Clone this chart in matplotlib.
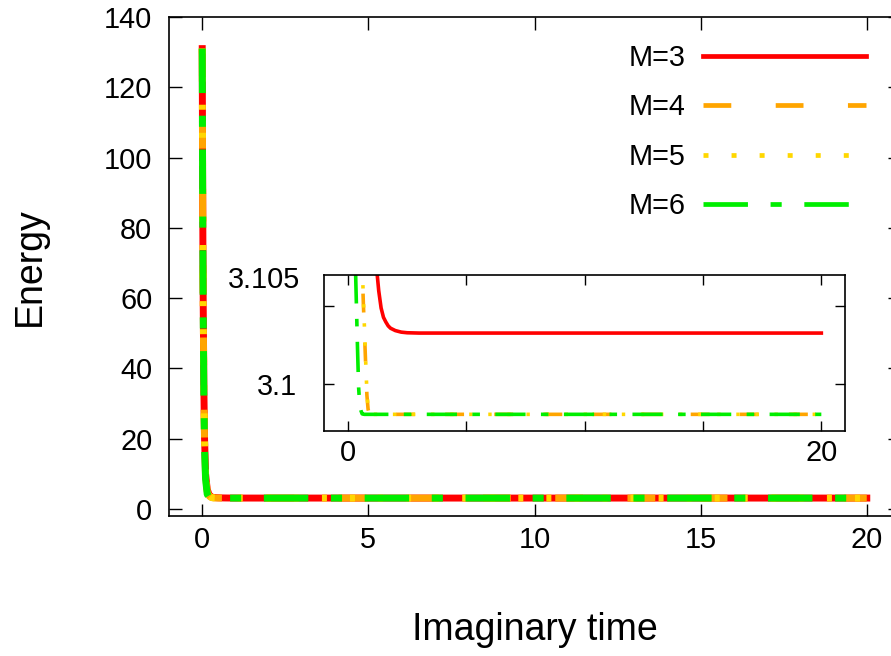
import numpy as np
import matplotlib
matplotlib.use('Agg')
import matplotlib.pyplot as plt
from matplotlib.lines import Line2D

plt.rcParams['font.family'] = ['Liberation Sans', 'DejaVu Sans']
plt.rcParams['lines.scale_dashes'] = False

# imaginary time grid shared by all runs
t = [0, 0.01, 0.02, 0.03, 0.05, 0.07, 0.1, 0.15, 0.2, 0.25,
     0.3, 0.35, 0.4, 0.45, 0.5, 0.55, 0.6, 0.65, 0.7, 0.75,
     0.8, 0.85, 0.9, 1.0, 1.1, 1.2, 1.3, 1.4, 1.5, 1.6,
     1.7, 1.8, 2.0, 2.25, 2.5, 3.0, 5.0, 10.0, 15.0, 20.0]

e_m3 = [131, 100, 76, 58, 34, 20, 10, 5.6, 4.2, 3.6,
        3.35, 3.27, 3.23, 3.2, 3.18, 3.165, 3.15, 3.14, 3.132, 3.126,
        3.121, 3.117, 3.1145, 3.1115, 3.1093, 3.1076, 3.1060, 3.1049, 3.1043, 3.1040,
        3.10375, 3.1036, 3.10345, 3.10335, 3.10331, 3.10329, 3.10329, 3.10329, 3.10329, 3.10329]

e_m4 = [131, 99, 75, 57, 33, 19, 9.5, 5.0, 3.8, 3.4,
        3.22, 3.16, 3.135, 3.122, 3.115, 3.111, 3.1075, 3.1052, 3.1032, 3.1012,
        3.0993, 3.0984, 3.0981, 3.09808, 3.09807, 3.09807, 3.09807, 3.09807, 3.09807, 3.09807,
        3.09807, 3.09807, 3.09807, 3.09807, 3.09807, 3.09807, 3.09807, 3.09807, 3.09807, 3.09807]

e_m5 = [131, 99, 75, 57, 33, 19, 9.5, 5.0, 3.8, 3.4,
        3.22, 3.16, 3.135, 3.122, 3.115, 3.111, 3.1078, 3.1055, 3.1035, 3.1014,
        3.0995, 3.0985, 3.0981, 3.09808, 3.09807, 3.09807, 3.09807, 3.09807, 3.09807, 3.09807,
        3.09807, 3.09807, 3.09807, 3.09807, 3.09807, 3.09807, 3.09807, 3.09807, 3.09807, 3.09807]

e_m6 = [131, 98, 73, 55, 31, 17, 8.5, 4.2, 3.4, 3.15,
        3.1085, 3.1055, 3.1025, 3.0998, 3.0986, 3.0983, 3.0981, 3.09808, 3.09807, 3.09807,
        3.09807, 3.09807, 3.09807, 3.09807, 3.09807, 3.09807, 3.09807, 3.09807, 3.09807, 3.09807,
        3.09807, 3.09807, 3.09807, 3.09807, 3.09807, 3.09807, 3.09807, 3.09807, 3.09807, 3.09807]

labels = ['M=3', 'M=4', 'M=5', 'M=6']
series = [e_m3, e_m4, e_m5, e_m6]
colors = ['#ff0000', '#ffa500', '#ffd700', '#00ee00']
dashes = [None, (20, 32), (3.6, 16.6), (32, 16.3, 8, 16.3)]

FS = 20.8
W, H = 891, 656

fig = plt.figure(figsize=(W / 100, H / 100), dpi=100)
ax = fig.add_axes([169 / W, 1 - 516 / H, 731 / W, 499 / H])

for y, c, d in zip(series, colors, dashes):
    ls = '-' if d is None else (0, d)
    ax.plot(t, y, color=c, lw=5, ls=ls)

ax.set_xlim(-1, 21)
ax.set_ylim(-2, 140)
ax.set_xticks([0, 5, 10, 15, 20])
ax.set_yticks(np.arange(0, 141, 20))
ax.tick_params(direction='in', length=9, width=1, top=True, right=True, labelsize=FS)
ax.tick_params(axis='x', pad=7)
ax.tick_params(axis='y', pad=12)
for s in ax.spines.values():
    s.set_linewidth(1.2)

ax.set_xlabel('Imaginary time', fontsize=27)
ax.set_ylabel('Energy', fontsize=27)
ax.xaxis.set_label_coords(0.5, -0.192)
ax.yaxis.set_label_coords(-0.166, 0.5)

handles = []
for c, d in zip(colors, dashes):
    ls = '-' if d is None else (0, d)
    handles.append(Line2D([], [], color=c, lw=3.4, ls=ls))
ax.legend(handles, labels, loc='upper right', bbox_to_anchor=(866 / W, 1 - 44 / H),
          bbox_transform=fig.transFigure, frameon=False, markerfirst=False,
          handlelength=5.64, handletextpad=0.62, labelspacing=0.74,
          borderpad=0, borderaxespad=0, fontsize=FS)

# inset: zoom on the converged energies
ax2 = fig.add_axes([324.3 / W, 1 - 431 / H, 520.7 / W, 155.7 / H])
for y, c, d in zip(series, colors, dashes):
    ls = '-' if d is None else (0, tuple(v * 0.68 for v in d))
    ax2.plot(t, y, color=c, lw=2.6, ls=ls)
ax2.set_xlim(-1, 21)
ax2.set_ylim(3.097, 3.107)
ax2.set_xticks([0, 5, 10, 15, 20])
ax2.set_xticklabels(['0', '', '', '', '20'])
ax2.set_yticks([3.1, 3.105])
ax2.set_yticklabels(['3.1', ''])
ax2.tick_params(direction='in', length=7, width=1, top=True, right=True, labelsize=FS)
ax2.tick_params(axis='x', pad=6)
ax2.tick_params(axis='y', pad=19.5)
for s in ax2.spines.values():
    s.set_linewidth(1.2)
ax2.text((300 - 324.3) / 520.7, (431 - 280) / 155.7, '3.105', transform=ax2.transAxes,
         ha='right', va='center', fontsize=FS)

fig.savefig('out.png', dpi=100)
